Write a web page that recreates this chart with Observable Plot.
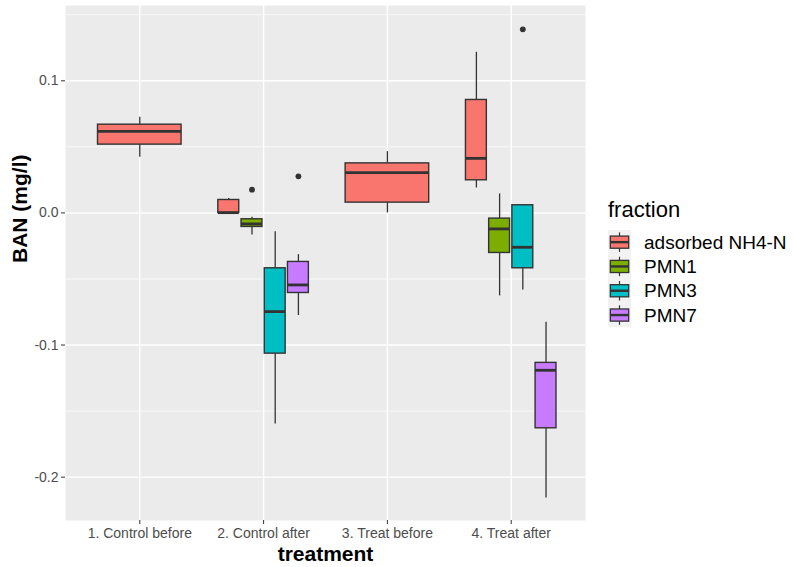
<!DOCTYPE html>
<html>
<head>
<meta charset="utf-8">
<script src="https://cdn.jsdelivr.net/npm/d3@7"></script>
<script src="https://cdn.jsdelivr.net/npm/@observablehq/plot@0.6"></script>
<style>
  html, body { margin: 0; padding: 0; background: #ffffff; }
  #wrap { position: relative; width: 793px; height: 567px; background: #ffffff; font-family: "Liberation Sans", Arial, sans-serif; }
  #legend { position: absolute; left: 600px; top: 190px; }
</style>
</head>
<body>
<div id="wrap"></div>
<script>
// ---- data ----
const treatments = ["1. Control before", "2. Control after", "3. Treat before", "4. Treat after"];
const fractions = ["adsorbed NH4-N", "PMN1", "PMN3", "PMN7"];
const fillColors = ["#F8766D", "#7CAE00", "#00BFC4", "#C77CFF"];

const boxTreatment = ["1. Control before", "2. Control after", "2. Control after", "2. Control after", "2. Control after",
                      "3. Treat before", "4. Treat after", "4. Treat after", "4. Treat after", "4. Treat after"];
const boxFraction = ["adsorbed NH4-N", "adsorbed NH4-N", "PMN1", "PMN3", "PMN7",
                     "adsorbed NH4-N", "adsorbed NH4-N", "PMN1", "PMN3", "PMN7"];
const boxYmin   = [0.0421, 0.0000, -0.0167, -0.1597, -0.0777, 0.0000, 0.0189, -0.0628, -0.0583, -0.2157];
const boxLower  = [0.0517, 0.0000, -0.0106, -0.1065, -0.0606, 0.0078, 0.0247, -0.0303, -0.0419, -0.1630];
const boxMiddle = [0.0618, 0.0002, -0.0083, -0.0747, -0.0545, 0.0305, 0.0413, -0.0121, -0.0260, -0.1191];
const boxUpper  = [0.0668, 0.0098, -0.0048, -0.0419, -0.0371, 0.0375, 0.0855, -0.0043, 0.0058, -0.1135];
const boxYmax   = [0.0724, 0.0110, -0.0033, -0.0142, -0.0316, 0.0464, 0.1216, 0.0144, 0.0058, -0.0828];

const outTreatment = ["2. Control after", "2. Control after", "4. Treat after"];
const outFraction  = ["PMN1", "PMN7", "PMN3"];
const outValue     = [0.0176, 0.0277, 0.139];

const yMajorTicks = [-0.2, -0.1, 0.0, 0.1];
const yMinorTicks = [-0.15, -0.05, 0.05, 0.15];
const xTitle = "treatment";
const yTitle = "BAN (mg/l)";
const legendTitle = "fraction";

// ---- dodge layout (position_dodge2-like), derived from the data ----
const dodgeWidth = 0.75, boxPad = 0.9;
const groupsOf = t => fractions.filter(f => boxTreatment.some((bt, i) => bt === t && boxFraction[i] === f));
function slot(t, f) {
  const g = groupsOf(t);
  const n = g.length, k = g.indexOf(f);
  const w = dodgeWidth / n;
  const c = treatments.indexOf(t) + 1 - dodgeWidth / 2 + w * (k + 0.5);
  return {c, half: w * boxPad / 2};
}
const boxes = boxTreatment.map((t, i) => {
  const s = slot(t, boxFraction[i]);
  return {treatment: t, fraction: boxFraction[i], xc: s.c, x1: s.c - s.half, x2: s.c + s.half,
          ymin: boxYmin[i], lower: boxLower[i], middle: boxMiddle[i], upper: boxUpper[i], ymax: boxYmax[i]};
});
const outliers = outTreatment.map((t, i) => ({treatment: t, fraction: outFraction[i], xc: slot(t, outFraction[i]).c, value: outValue[i]}));

const fmt = d => d.toFixed(1);
const ink = "#333333";

const chart = Plot.plot({
  width: 793,
  height: 567,
  marginLeft: 65,
  marginRight: 208,
  marginTop: 5,
  marginBottom: 47,
  style: {fontFamily: "Liberation Sans, Arial, sans-serif", fontSize: "14px", background: "transparent"},
  x: {type: "linear", domain: [0.4, 4.6]},
  y: {domain: [-0.2328, 0.157]},
  color: {domain: fractions, range: fillColors},
  marks: [
    Plot.frame({fill: "#EBEBEB", stroke: null}),
    Plot.gridY({ticks: yMinorTicks, stroke: "#ffffff", strokeOpacity: 1, strokeWidth: 0.7}),
    Plot.gridY({ticks: yMajorTicks, stroke: "#ffffff", strokeOpacity: 1, strokeWidth: 1.4}),
    Plot.gridX({ticks: [1, 2, 3, 4], stroke: "#ffffff", strokeOpacity: 1, strokeWidth: 1.4}),
    Plot.axisY({ticks: yMajorTicks, tickFormat: fmt, tickSize: 4, tickPadding: 3, stroke: ink, fill: "#4D4D4D", fontSize: 14, label: null}),
    Plot.axisX({ticks: [1, 2, 3, 4], tickFormat: d => treatments[d - 1], tickSize: 4, tickPadding: 4, stroke: ink, fill: "#4D4D4D", fontSize: 14, label: null}),
    Plot.ruleX(boxes, {x: "xc", y1: "ymin", y2: "lower", stroke: ink, strokeWidth: 1.3}),
    Plot.ruleX(boxes, {x: "xc", y1: "upper", y2: "ymax", stroke: ink, strokeWidth: 1.3}),
    Plot.rectY(boxes, {x1: "x1", x2: "x2", y1: "lower", y2: "upper", fill: "fraction", stroke: ink, strokeWidth: 1.4}),
    Plot.ruleY(boxes, {x1: "x1", x2: "x2", y: "middle", stroke: ink, strokeWidth: 2.8}),
    Plot.dot(outliers, {x: "xc", y: "value", r: 2.9, fill: ink, stroke: null}),
    Plot.text([xTitle], {frameAnchor: "bottom", dy: 34, text: d => d, fontSize: 21, fontWeight: "bold", fill: "#000000", lineAnchor: "middle"}),
    Plot.text([yTitle], {frameAnchor: "left", dx: -45, rotate: -90, text: d => d, fontSize: 21, fontWeight: "bold", fill: "#000000", lineAnchor: "middle"})
  ]
});

const wrap = document.getElementById("wrap");
wrap.appendChild(chart);

// ---- legend (ggplot-style boxplot keys) ----
const keySize = 24.3;
const lg = d3.select(wrap).append("svg").attr("id", "legend").attr("width", 193).attr("height", 150);
lg.append("text").attr("x", 8).attr("y", 27).attr("font-size", 22).attr("fill", "#000")
  .attr("font-family", "Liberation Sans, Arial, sans-serif").text(legendTitle);
fractions.forEach((f, i) => {
  const y0 = 40 + i * keySize;
  const g = lg.append("g").attr("transform", `translate(8,${y0})`);
  const s = 23;
  g.append("rect").attr("width", s).attr("height", keySize).attr("fill", "#F2F2F2");
  const cy = keySize / 2;
  g.append("line").attr("x1", s / 2).attr("x2", s / 2).attr("y1", keySize * 0.1).attr("y2", keySize * 0.9).attr("stroke", ink).attr("stroke-width", 1.2);
  g.append("rect").attr("x", s * 0.1).attr("y", keySize * 0.25).attr("width", s * 0.8).attr("height", keySize * 0.5)
    .attr("fill", fillColors[i]).attr("stroke", ink).attr("stroke-width", 1.3);
  g.append("line").attr("x1", s * 0.1).attr("x2", s * 0.9).attr("y1", cy).attr("y2", cy).attr("stroke", ink).attr("stroke-width", 2.4);
  lg.append("text").attr("x", 44).attr("y", y0 + cy).attr("dy", "0.35em").attr("font-size", 19).attr("fill", "#000")
    .attr("font-family", "Liberation Sans, Arial, sans-serif").text(f);
});
</script>
</body>
</html>
